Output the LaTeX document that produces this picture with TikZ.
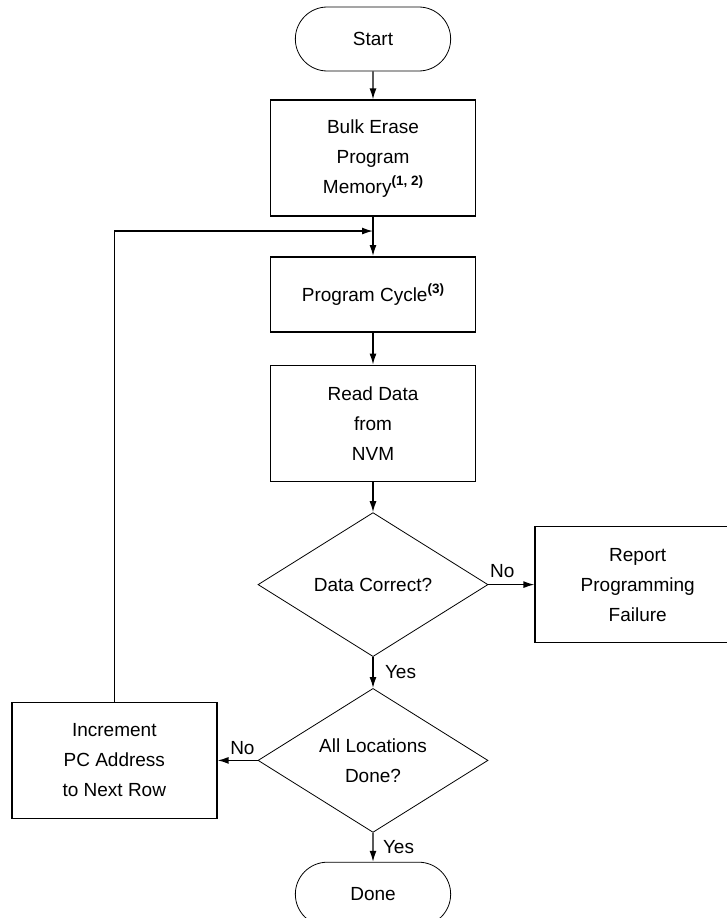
\documentclass[tikz,border=0pt]{standalone}
\usepackage{fontspec}
\setmainfont{Liberation Sans}
\usetikzlibrary{shapes, arrows.meta, positioning, calc}
\tikzstyle{block} = [draw, fill=white, rectangle, line width=1.6pt, minimum width=205pt, minimum height=116pt, align=center]
\tikzstyle{decision} = [draw, fill=white, diamond, aspect=1.6, inner sep=0pt, line width=0.8pt, minimum width=230pt, minimum height=144pt, align=center]
\tikzstyle{terminal} = [draw, fill=white, rounded rectangle, line width=0.8pt, minimum width=162pt, minimum height=64pt]
\tikzstyle{line} = [draw, line width=1.4pt, -{Latex[length=11pt,width=7pt]}]
\newcommand{\fnote}[1]{\raisebox{8pt}{\fontsize{13.5}{13.5}\selectfont\bfseries(#1)}}

\begin{document}
\begin{tikzpicture}[font=\fontsize{19}{30}\selectfont]
  \useasboundingbox (0,0) rectangle (727pt,-918pt);
  \clip (0,0) rectangle (727pt,-918pt);
  \node[terminal] (start) at (373pt,-39pt) {Start};
  \node[block, below=28pt of start] (erase) {Bulk Erase\\Program\\Memory\fnote{1, 2}};
  \node[block, minimum height=75pt, below=39pt of erase] (cycle) {Program Cycle\fnote{3}};
  \node[block, below=32pt of cycle] (read) {Read Data\\from\\NVM};
  \node[decision, below=30pt of read] (check) {Data Correct?};
  \node[block, right=46pt of check] (fail) {Report\\Programming\\Failure};
  \node[decision, below=31pt of check] (alldone) {All Locations\\Done?};
  \node[block, left=40pt of alldone] (incr) {Increment\\PC Address\\to Next Row};
  \node[terminal, below=29pt of alldone] (done) {Done};
  \coordinate (join) at ($(erase.south)!.36!(cycle.north)$);
  \draw[line] (start) -- (erase);
  \draw[line] (erase) -- (cycle);
  \draw[line] (incr.north) |- (join);
  \draw[line] (cycle) -- (read);
  \draw[line] (read) -- (check);
  \draw[line] (check) -- node[above=3pt, pos=.3] {No} (fail);
  \draw[line] (check) -- node[right=8pt] {Yes} (alldone);
  \draw[line] (alldone) -- node[above=2pt, pos=.38] {No} (incr);
  \draw[line] (alldone) -- node[right=6pt] {Yes} (done);
\end{tikzpicture}
\end{document}
